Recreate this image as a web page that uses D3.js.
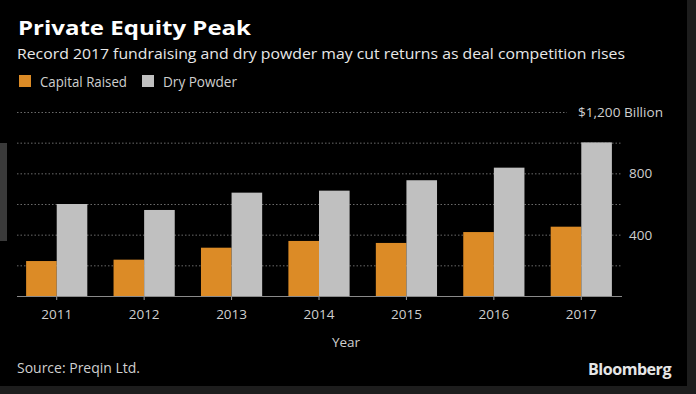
<!DOCTYPE html>
<html>
<head>
<meta charset="utf-8">
<script src="https://cdn.jsdelivr.net/npm/d3@7"></script>
<style>
  html, body { margin: 0; padding: 0; background: #1d1d1d; }
  svg { display: block; }
  text { font-family: "Open Sans", "Noto Sans", sans-serif; }
</style>
</head>
<body>
<svg id="chart" width="696" height="394"></svg>
<script>
const years = ["2011", "2012", "2013", "2014", "2015", "2016", "2017"];
const seriesNames = ["Capital Raised", "Dry Powder"];
const capitalRaised = [228, 237, 315, 359, 346, 417, 452];
const dryPowder = [600, 561, 674, 687, 755, 837, 1002];
const gridValues = [200, 400, 600, 800, 1000, 1200];
const tickLabels = [400, 800];
const topLabel = "$1,200 Billion";
const colors = ["#dc8b26", "#c0c0c0"];

const svg = d3.select("#chart");

// frame
svg.append("rect").attr("x", 0).attr("y", 0).attr("width", 687).attr("height", 386).attr("fill", "#000");
svg.append("rect").attr("x", 0).attr("y", 143).attr("width", 7).attr("height", 98).attr("fill", "#3a3a3a");

const x0 = d3.scaleBand().domain(years).range([13, 625]).paddingInner(0.3).paddingOuter(0.15);
const x1 = d3.scaleBand().domain(seriesNames).range([0, x0.bandwidth()]);
const y = d3.scaleLinear().domain([0, 1200]).range([296, 112]);

// gridlines
svg.append("g").selectAll("line").data(gridValues).join("line")
  .attr("x1", 17)
  .attr("x2", d => d === 1200 ? 567 : 622)
  .attr("y1", d => y(d) + 0.5).attr("y2", d => y(d) + 0.5)
  .attr("stroke", "#6a6a6a").attr("stroke-width", 1).attr("stroke-dasharray", "1.5,2");

// bars
const rows = years.map((yr, i) => ({ year: yr, values: [capitalRaised[i], dryPowder[i]] }));
const g = svg.append("g").selectAll("g").data(rows).join("g")
  .attr("transform", d => `translate(${x0(d.year)},0)`);
g.selectAll("rect").data(d => d.values.map((v, j) => ({ key: seriesNames[j], v, j }))).join("rect")
  .attr("x", d => x1(d.key))
  .attr("y", d => y(d.v))
  .attr("width", x1.bandwidth())
  .attr("height", d => y(0) - y(d.v))
  .attr("fill", d => colors[d.j]);

// x axis
const xAxis = d3.axisBottom(x0).tickSize(4).tickSizeOuter(0).tickPadding(9);
const ax = svg.append("g").attr("transform", `translate(0,${y(0)})`).call(xAxis);
ax.select(".domain").remove();
ax.selectAll(".tick line").attr("stroke", "#999");
ax.selectAll(".tick text").attr("fill", "#cfcfcf").attr("font-size", 13.5);
svg.append("line").attr("x1", 17).attr("x2", 622).attr("y1", y(0) + 0.5).attr("y2", y(0) + 0.5)
  .attr("stroke", "#8a8a8a").attr("stroke-width", 1.2);

// y labels
svg.append("g").selectAll("text").data(tickLabels).join("text")
  .attr("x", 629).attr("y", d => y(d) + 5)
  .attr("fill", "#cfcfcf").attr("font-size", 13.5)
  .text(d => d3.format(",")(d));
svg.append("text").attr("x", 663).attr("y", y(1200) + 5)
  .attr("text-anchor", "end").attr("fill", "#cfcfcf").attr("font-size", 13.5)
  .attr("textLength", 85).attr("lengthAdjust", "spacingAndGlyphs")
  .text(topLabel);

// titles
svg.append("text").attr("x", 18).attr("y", 35).attr("fill", "#fff")
  .attr("font-size", 20).attr("font-weight", "bold")
  .attr("textLength", 233).attr("lengthAdjust", "spacingAndGlyphs")
  .text("Private Equity Peak");
svg.append("text").attr("x", 17).attr("y", 58.5).attr("fill", "#e8e8e8")
  .attr("font-size", 15)
  .attr("textLength", 608).attr("lengthAdjust", "spacingAndGlyphs")
  .text("Record 2017 fundraising and dry powder may cut returns as deal competition rises");

// legend
const legendX = [19, 142];
const legendW = [87, 74];
seriesNames.forEach((s, i) => {
  svg.append("rect").attr("x", legendX[i]).attr("y", 75).attr("width", 12).attr("height", 12).attr("fill", colors[i]);
  svg.append("text").attr("x", legendX[i] + 21).attr("y", 86.5).attr("fill", "#cfcfcf")
    .attr("font-size", 14)
    .attr("textLength", legendW[i]).attr("lengthAdjust", "spacingAndGlyphs")
    .text(s);
});

// axis title
svg.append("text").attr("x", 346).attr("y", 347).attr("text-anchor", "middle")
  .attr("fill", "#cfcfcf").attr("font-size", 13.5).text("Year");

// footer
svg.append("text").attr("x", 17).attr("y", 373).attr("fill", "#cfcfcf")
  .attr("font-size", 14).attr("textLength", 123).attr("lengthAdjust", "spacingAndGlyphs")
  .text("Source: Preqin Ltd.");
svg.append("text").attr("x", 671).attr("y", 375).attr("text-anchor", "end").attr("fill", "#e6e6e6")
  .attr("font-family", "'Liberation Sans', Arial, sans-serif")
  .attr("font-size", 16).attr("font-weight", "bold").attr("letter-spacing", -0.5)
  .attr("textLength", 83).attr("lengthAdjust", "spacingAndGlyphs")
  .text("Bloomberg");
</script>
</body>
</html>
